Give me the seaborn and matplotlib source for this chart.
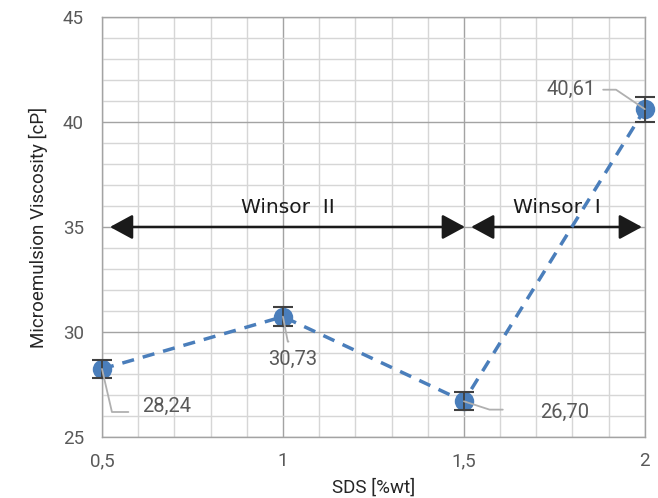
import matplotlib
matplotlib.use("Agg")
import matplotlib.pyplot as plt
import seaborn as sns
import pandas as pd
from matplotlib.ticker import MultipleLocator, FixedLocator, FuncFormatter

# Measured data
sds = [0.5, 1.0, 1.5, 2.0]
viscosity = [28.24, 30.73, 26.70, 40.61]
viscosity_err = [0.42, 0.45, 0.42, 0.60]
value_labels = ["28,24", "30,73", "26,70", "40,61"]

# Phase regions (Winsor type) along the SDS axis
region_names = ["Winsor  II", "Winsor  I"]
region_start = [0.522, 1.52]
region_end = [1.503, 1.992]
region_level = 35.0

df = pd.DataFrame({"SDS": sds, "Viscosity": viscosity})

sns.set_style("white")
plt.rcParams["font.family"] = ["Roboto", "DejaVu Sans"]

BLUE = "#4A7EBB"
GREY_TXT = "#595959"

fig = plt.figure(figsize=(6.58, 4.98), dpi=100)
ax = fig.add_axes([0.155, 0.1225, 0.825, 0.8435])

sns.lineplot(data=df, x="SDS", y="Viscosity", ax=ax, color=BLUE,
             linewidth=2.5, linestyle=(0, (3.5, 2.6)), marker="o",
             markersize=14, markeredgewidth=0, markerfacecolor=BLUE,
             zorder=3)
for ln in ax.lines:
    ln.set_clip_on(False)

eb = ax.errorbar(sds, viscosity, yerr=viscosity_err, fmt="none",
                 ecolor="#404040", elinewidth=1.3, capsize=7, capthick=1.5,
                 zorder=4)
for art in eb.lines[1] + eb.lines[2]:
    art.set_clip_on(False)

ax.set_xlim(0.5, 2.0)
ax.set_ylim(25, 45)
ax.xaxis.set_major_locator(FixedLocator([0.5, 1.0, 1.5, 2.0]))
ax.xaxis.set_minor_locator(MultipleLocator(0.1))
ax.yaxis.set_major_locator(MultipleLocator(5))
ax.yaxis.set_minor_locator(MultipleLocator(1))
ax.xaxis.set_major_formatter(FuncFormatter(lambda v, p: f"{v:g}".replace(".", ",")))

ax.grid(which="minor", color="#d6d6d6", linewidth=1.0, zorder=0)
ax.grid(which="major", color="#a3a3a3", linewidth=1.0, zorder=0)
ax.set_axisbelow(True)
for s in ax.spines.values():
    s.set_color("#a3a3a3")
    s.set_linewidth(1.0)

ax.tick_params(which="both", length=0, labelsize=13.5, labelcolor=GREY_TXT)
ax.tick_params(axis="y", pad=13)
ax.tick_params(axis="x", pad=11)

ax.set_xlabel("SDS [%wt]", fontsize=13.5, color="#262626", labelpad=6)
ax.set_ylabel("Microemulsion Viscosity [cP]", fontsize=13.5, color="#262626",
              labelpad=11)

# Value labels with leader lines (offsets in points)
label_offsets = [(29, -27), (7, -31), (55, -8), (-35, 14)]
label_align = ["left", "center", "left", "right"]
leader_start = [(19, -31), (4, -18), (28, -6), (-30, 14)]
leader_angle = [-77, -79, -18, 146]
for x, y, txt, off, ha, ls, ang in zip(sds, viscosity, value_labels,
                                       label_offsets, label_align,
                                       leader_start, leader_angle):
    ax.annotate("", xy=(x, y), xytext=ls, textcoords="offset points",
                arrowprops=dict(arrowstyle="-", color="#b0b0b0", lw=1.3,
                                shrinkA=0, shrinkB=0,
                                connectionstyle=f"angle,angleA=0,angleB={ang},rad=0"),
                zorder=5, annotation_clip=False)
    ax.annotate(txt, xy=(x, y), xytext=off, textcoords="offset points",
                ha=ha, va="center", fontsize=14.5, color=GREY_TXT, zorder=6,
                annotation_clip=False)

# Phase-region arrows
for name, x0, x1 in zip(region_names, region_start, region_end):
    ax.annotate("", xy=(x1, region_level), xytext=(x0, region_level),
                arrowprops=dict(arrowstyle="<|-|>,head_length=0.7,head_width=0.38",
                                mutation_scale=20, color="#1a1a1a", lw=1.8,
                                shrinkA=0, shrinkB=0), zorder=2)
    ax.text((x0 + x1) / 2, region_level + 0.95, name, ha="center", va="center",
            fontsize=14.5, color="#1a1a1a", family="DejaVu Sans", zorder=2)

fig.savefig("out.png", dpi=100)
